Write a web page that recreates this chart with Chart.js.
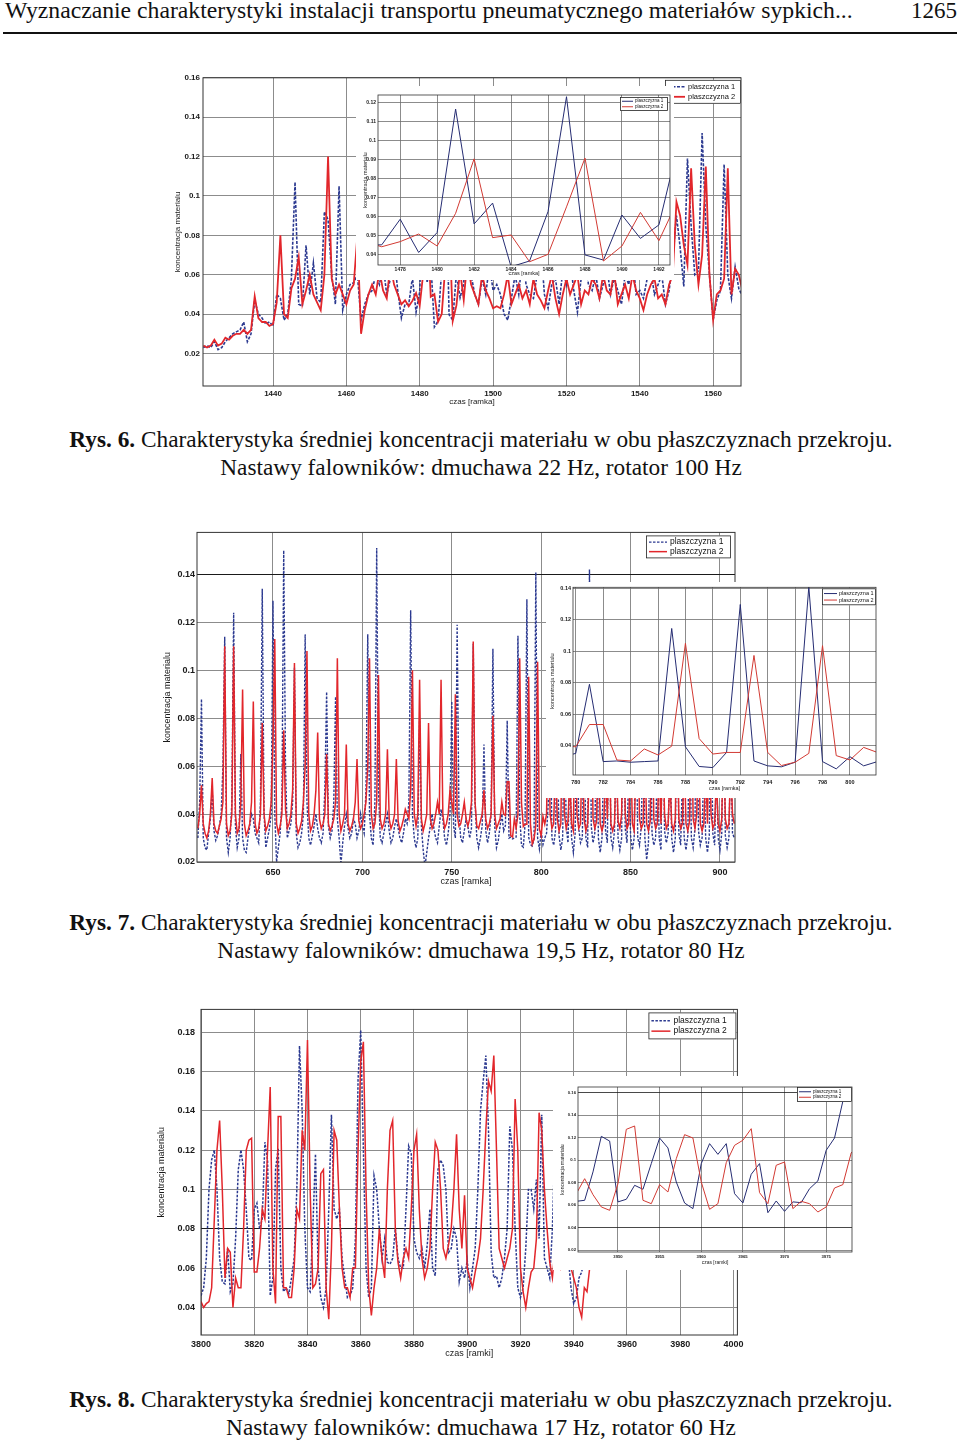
<!DOCTYPE html>
<html lang="pl">
<head>
<meta charset="utf-8">
<script src="https://cdn.jsdelivr.net/npm/chart.js@4.4.1/dist/chart.umd.min.js"></script>
<style>
  html, body { margin: 0; padding: 0; background: #fff; }
  body { width: 960px; height: 1442px; position: relative; overflow: hidden;
         font-family: "Liberation Serif", "Times New Roman", serif; color: #111; }
  #head { position: absolute; left: 5px; top: -2px; font-size: 23.7px; line-height: 25px; white-space: nowrap; }
  #page { position: absolute; right: 3px; top: -2px; font-size: 23px; line-height: 25px; }
  #rule { position: absolute; left: 3px; top: 32px; width: 954px; height: 2px; background: #111; }
  .cap { position: absolute; left: 0; width: 962px; text-align: center; font-size: 23.3px; line-height: 28px; white-space: nowrap; }
  canvas { position: absolute; }
  canvas.inset { background: #fff; }
</style>
</head>
<body>
<div id="head">Wyznaczanie charakterystyki instalacji transportu pneumatycznego materiałów sypkich...</div>
<div id="page">1265</div>
<div id="rule"></div>

<canvas id="c1" width="590" height="345" style="left:160px;top:70px"></canvas>
<canvas id="i1" class="inset" width="318" height="194" style="left:356px;top:86px"></canvas>
<div class="cap" style="top:425px"><b>Rys. 6.</b> Charakterystyka średniej koncentracji materiału w obu płaszczyznach przekroju.<br>Nastawy falowników: dmuchawa 22 Hz, rotator 100 Hz</div>

<canvas id="c2" width="595" height="368" style="left:150px;top:525px"></canvas>
<canvas id="i2" class="inset" width="334" height="216" style="left:546px;top:582px"></canvas>
<div class="cap" style="top:908px"><b>Rys. 7.</b> Charakterystyka średniej koncentracji materiału w obu płaszczyznach przekroju.<br>Nastawy falowników: dmuchawa 19,5 Hz, rotator 80 Hz</div>

<canvas id="c3" width="598" height="370" style="left:150px;top:998px"></canvas>
<canvas id="i3" class="inset" width="304" height="194" style="left:553px;top:1076px"></canvas>
<div class="cap" style="top:1385px"><b>Rys. 8.</b> Charakterystyka średniej koncentracji materiału w obu płaszczyznach przekroju.<br>Nastawy falowników: dmuchawa 17 Hz, rotator 60 Hz</div>

<script>
// ---- data (one value per frame) ----
const seriesNames = ['plaszczyzna 1', 'plaszczyzna 2'];

// Rys. 6, frames 1421..1568
const c1Start = 1421;
const c1Plane1 = [
  0.023,0.024,0.023,0.026,0.022,0.023,0.026,0.028,0.030,0.031,
  0.032,0.036,0.026,0.030,0.047,0.040,0.038,0.035,0.036,0.034,
  0.050,0.048,0.037,0.040,0.058,0.107,0.045,0.044,0.075,0.050,
  0.066,0.048,0.046,0.092,0.088,0.060,0.045,0.105,0.042,0.050,
  0.055,0.056,0.060,0.037,0.045,0.050,0.052,0.060,0.055,0.065,
  0.050,0.058,0.070,0.052,0.038,0.045,0.045,0.0585,0.041,0.0515,
  0.1165,0.056,0.067,0.0335,0.0365,0.0625,0.123,0.0397,0.037,0.0607,
  0.0484,0.0555,0.096,0.060,0.050,0.045,0.058,0.050,0.065,0.052,
  0.055,0.050,0.040,0.037,0.048,0.060,0.050,0.070,0.055,0.050,
  0.048,0.060,0.075,0.050,0.043,0.055,0.058,0.045,0.062,0.055,
  0.068,0.052,0.041,0.058,0.070,0.055,0.052,0.060,0.048,0.055,
  0.065,0.050,0.058,0.052,0.045,0.060,0.055,0.070,0.050,0.052,
  0.048,0.058,0.062,0.050,0.055,0.060,0.045,0.052,0.068,0.090,
  0.074,0.054,0.119,0.085,0.060,0.062,0.132,0.085,0.060,0.037,
  0.047,0.052,0.116,0.060,0.048,0.064,0.053,0.049
];
const c1Plane2 = [
  0.024,0.023,0.024,0.027,0.024,0.025,0.028,0.027,0.029,0.030,
  0.030,0.032,0.030,0.032,0.049,0.038,0.036,0.036,0.034,0.035,
  0.046,0.080,0.040,0.038,0.053,0.058,0.069,0.045,0.052,0.060,
  0.050,0.046,0.042,0.060,0.120,0.058,0.050,0.055,0.050,0.045,
  0.052,0.055,0.080,0.030,0.042,0.050,0.055,0.050,0.062,0.052,
  0.048,0.065,0.055,0.050,0.045,0.047,0.044,0.0467,0.0507,0.0444,
  0.0616,0.0903,0.0488,0.0502,0.0361,0.040,0.065,0.0907,0.0365,0.0444,
  0.0621,0.0472,0.068,0.055,0.050,0.045,0.060,0.052,0.048,0.043,
  0.044,0.043,0.050,0.060,0.045,0.050,0.055,0.048,0.052,0.045,
  0.058,0.050,0.047,0.043,0.052,0.060,0.048,0.040,0.050,0.058,
  0.050,0.055,0.060,0.045,0.052,0.050,0.058,0.055,0.048,0.060,
  0.052,0.050,0.062,0.045,0.050,0.055,0.048,0.060,0.052,0.048,
  0.042,0.050,0.055,0.058,0.048,0.050,0.045,0.055,0.060,0.097,
  0.090,0.075,0.065,0.114,0.075,0.055,0.070,0.115,0.060,0.037,
  0.050,0.052,0.058,0.114,0.050,0.063,0.060,0.052
];
const c1TicksX = [1440, 1460, 1480, 1500, 1520, 1540, 1560];
const c1TicksY = [0.02, 0.04, 0.06, 0.08, 0.1, 0.12, 0.14, 0.16];
const i1TicksX = [1478, 1480, 1482, 1484, 1486, 1488, 1490, 1492];
const i1TicksY = [0.04, 0.05, 0.06, 0.07, 0.08, 0.09, 0.1, 0.11, 0.12];

// Rys. 7, frames 608..908
const c2Start = 608;
const c2Plane1 = [
  0.030,0.045,0.088,0.030,0.026,0.025,0.032,0.038,0.050,0.033,
  0.029,0.031,0.035,0.040,0.060,0.114,0.030,0.024,0.030,0.045,
  0.124,0.035,0.026,0.030,0.065,0.030,0.025,0.024,0.030,0.035,
  0.040,0.038,0.032,0.030,0.028,0.045,0.134,0.040,0.026,0.030,
  0.034,0.040,0.129,0.040,0.020,0.026,0.032,0.045,0.150,0.060,
  0.030,0.033,0.036,0.045,0.101,0.032,0.026,0.028,0.032,0.040,
  0.115,0.045,0.030,0.027,0.031,0.035,0.040,0.034,0.030,0.028,
  0.032,0.050,0.091,0.035,0.030,0.033,0.045,0.089,0.038,0.030,
  0.019,0.028,0.035,0.040,0.034,0.030,0.032,0.038,0.036,0.030,
  0.033,0.040,0.035,0.032,0.050,0.115,0.040,0.030,0.027,0.045,
  0.151,0.050,0.030,0.028,0.032,0.036,0.040,0.033,0.028,0.030,
  0.035,0.038,0.034,0.030,0.028,0.032,0.038,0.036,0.045,0.125,
  0.040,0.030,0.026,0.030,0.080,0.035,0.025,0.018,0.024,0.030,
  0.035,0.040,0.034,0.030,0.028,0.035,0.042,0.038,0.030,0.027,
  0.032,0.040,0.087,0.035,0.030,0.119,0.040,0.030,0.028,0.033,
  0.038,0.035,0.030,0.034,0.111,0.045,0.030,0.026,0.030,0.035,
  0.069,0.033,0.028,0.032,0.040,0.109,0.035,0.026,0.029,0.035,
  0.040,0.033,0.0352,0.079,0.030,0.0304,0.0296,0.030,0.0304,0.1144,
  0.0394,0.0269,0.0262,0.0358,0.1296,0.0304,0.0273,0.0267,0.0296,0.1408,
  0.030,0.0254,0.0331,0.0273,0.030,0.032,0.045,0.090,0.030,0.027,
  0.033,0.070,0.031,0.025,0.030,0.085,0.035,0.028,0.060,0.030,
  0.024,0.032,0.100,0.034,0.028,0.030,0.075,0.030,0.026,0.142,
  0.035,0.028,0.032,0.080,0.030,0.024,0.030,0.065,0.033,0.028,
  0.095,0.030,0.026,0.033,0.070,0.030,0.025,0.030,0.110,0.034,
  0.028,0.060,0.031,0.025,0.030,0.090,0.030,0.027,0.035,0.075,
  0.030,0.021,0.028,0.085,0.032,0.027,0.030,0.065,0.030,0.025,
  0.100,0.033,0.028,0.032,0.070,0.030,0.024,0.030,0.090,0.032,
  0.027,0.055,0.030,0.025,0.031,0.080,0.030,0.026,0.034,0.105,
  0.033,0.027,0.030,0.065,0.030,0.024,0.031,0.085,0.032,0.027,
  0.060,0.030,0.025,0.032,0.095,0.031,0.026,0.030,0.070,0.032,
  0.030
];
const c2Plane2 = [
  0.034,0.040,0.052,0.036,0.032,0.030,0.033,0.040,0.055,0.036,
  0.033,0.032,0.035,0.038,0.045,0.110,0.036,0.031,0.033,0.040,
  0.110,0.040,0.032,0.034,0.045,0.092,0.036,0.031,0.033,0.036,
  0.045,0.087,0.036,0.032,0.034,0.040,0.078,0.040,0.033,0.035,
  0.038,0.045,0.070,0.113,0.036,0.032,0.035,0.040,0.075,0.042,
  0.034,0.036,0.040,0.050,0.103,0.036,0.032,0.034,0.037,0.045,
  0.060,0.108,0.040,0.033,0.035,0.040,0.050,0.074,0.038,0.034,
  0.036,0.040,0.065,0.036,0.033,0.035,0.038,0.045,0.105,0.040,
  0.033,0.036,0.040,0.069,0.036,0.033,0.035,0.038,0.045,0.063,
  0.037,0.034,0.036,0.040,0.045,0.060,0.105,0.040,0.034,0.036,
  0.045,0.098,0.038,0.034,0.036,0.040,0.067,0.038,0.034,0.036,
  0.040,0.063,0.037,0.033,0.035,0.038,0.042,0.040,0.038,0.050,
  0.100,0.040,0.035,0.040,0.096,0.038,0.033,0.036,0.040,0.078,
  0.038,0.034,0.036,0.040,0.045,0.040,0.096,0.040,0.034,0.036,
  0.040,0.050,0.045,0.040,0.090,0.040,0.035,0.036,0.040,0.045,
  0.038,0.035,0.038,0.045,0.112,0.045,0.035,0.034,0.037,0.040,
  0.050,0.038,0.034,0.036,0.040,0.081,0.040,0.034,0.036,0.038,
  0.045,0.040,0.0394,0.0535,0.0535,0.031,0.0304,0.038,0.0342,0.0398,
  0.105,0.0446,0.0348,0.0358,0.0358,0.0973,0.0358,0.0275,0.0296,0.0352,
  0.1035,0.0338,0.031,0.039,0.0358,0.040,0.080,0.040,0.034,0.036,
  0.065,0.038,0.033,0.036,0.090,0.040,0.034,0.037,0.055,0.036,
  0.033,0.085,0.040,0.034,0.036,0.070,0.038,0.033,0.036,0.060,
  0.095,0.038,0.034,0.037,0.075,0.036,0.033,0.036,0.060,0.038,
  0.080,0.036,0.033,0.036,0.065,0.037,0.034,0.040,0.100,0.040,
  0.034,0.036,0.070,0.036,0.033,0.060,0.085,0.038,0.034,0.036,
  0.065,0.036,0.033,0.037,0.090,0.038,0.034,0.036,0.060,0.036,
  0.075,0.040,0.034,0.036,0.055,0.036,0.033,0.038,0.085,0.038,
  0.034,0.036,0.065,0.036,0.033,0.037,0.090,0.038,0.034,0.040,
  0.070,0.036,0.033,0.036,0.060,0.036,0.080,0.040,0.034,0.036,
  0.055,0.036,0.033,0.038,0.075,0.038,0.034,0.036,0.060,0.040,
  0.036
];
const c2TicksX = [650, 700, 750, 800, 850, 900];
const c2TicksY = [0.02, 0.04, 0.06, 0.08, 0.1, 0.12, 0.14];
const i2TicksX = [780, 782, 784, 786, 788, 790, 792, 794, 796, 798, 800];
const i2TicksY = [0.04, 0.06, 0.08, 0.1, 0.12, 0.14];

// Rys. 8, frames 3800..3947 (rest of the main plot is covered by the inset)
const c3Start = 3800;
const c3Plane1 = [
  0.046,0.050,0.065,0.100,0.115,0.120,0.100,0.065,0.053,0.052,
  0.070,0.048,0.052,0.075,0.110,0.120,0.110,0.090,0.065,0.064,
  0.090,0.093,0.080,0.085,0.124,0.115,0.046,0.055,0.110,0.121,
  0.060,0.048,0.050,0.047,0.055,0.065,0.100,0.173,0.140,0.080,
  0.050,0.048,0.080,0.118,0.060,0.045,0.040,0.050,0.090,0.138,
  0.090,0.085,0.090,0.065,0.055,0.045,0.046,0.050,0.075,0.156,
  0.181,0.120,0.060,0.045,0.050,0.107,0.100,0.080,0.065,0.075,
  0.063,0.062,0.065,0.080,0.065,0.060,0.060,0.090,0.122,0.118,
  0.075,0.068,0.065,0.070,0.060,0.072,0.090,0.060,0.056,0.110,
  0.115,0.112,0.100,0.068,0.070,0.080,0.075,0.053,0.060,0.055,
  0.064,0.050,0.060,0.070,0.100,0.140,0.155,0.168,0.130,0.068,
  0.055,0.056,0.050,0.055,0.065,0.080,0.132,0.120,0.080,0.050,
  0.045,0.050,0.070,0.100,0.100,0.090,0.105,0.075,0.138,0.065,
  0.060,0.055,0.080,0.125,0.090,0.070,0.080,0.075,0.065,0.050,
  0.042,0.045,0.055,0.058,0.065,0.064,0.064,0.090
];
const c3Plane2 = [
  0.043,0.040,0.042,0.043,0.050,0.085,0.120,0.135,0.100,0.055,
  0.070,0.068,0.040,0.055,0.050,0.050,0.080,0.120,0.125,0.126,
  0.058,0.058,0.070,0.090,0.085,0.120,0.152,0.060,0.042,0.137,
  0.137,0.050,0.050,0.045,0.045,0.060,0.090,0.085,0.130,0.120,
  0.176,0.100,0.050,0.052,0.060,0.108,0.110,0.050,0.034,0.070,
  0.130,0.125,0.090,0.060,0.050,0.050,0.045,0.060,0.060,0.120,
  0.165,0.175,0.100,0.050,0.036,0.050,0.060,0.080,0.065,0.055,
  0.100,0.130,0.135,0.080,0.063,0.055,0.065,0.070,0.065,0.090,
  0.120,0.128,0.090,0.065,0.055,0.060,0.070,0.100,0.124,0.120,
  0.100,0.070,0.065,0.072,0.080,0.100,0.128,0.090,0.070,0.097,
  0.060,0.055,0.050,0.058,0.065,0.075,0.100,0.130,0.155,0.150,
  0.168,0.120,0.070,0.065,0.060,0.065,0.070,0.080,0.146,0.120,
  0.060,0.048,0.040,0.050,0.058,0.060,0.075,0.139,0.130,0.100,
  0.080,0.063,0.055,0.070,0.065,0.060,0.065,0.070,0.060,0.060,
  0.055,0.050,0.040,0.035,0.050,0.048,0.060,0.070
];
const c3TicksX = [3800, 3820, 3840, 3860, 3880, 3900, 3920, 3940, 3960, 3980, 4000];
const c3TicksY = [0.04, 0.06, 0.08, 0.1, 0.12, 0.14, 0.16, 0.18];

// Rys. 8 inset, frames 3945..3979
const i3Start = 3945;
const i3Plane1 = [
  0.0635,0.0644,0.0896,0.1212,0.117,0.063,0.0653,0.0777,0.0742,0.097,
  0.1197,0.1109,0.0807,0.062,0.057,0.097,0.1147,0.1052,0.1147,0.0703,
  0.062,0.0875,0.097,0.0534,0.0638,0.0546,0.063,0.0623,0.0747,0.0816,
  0.1088,0.1197,0.1523,0.1665,0.172
];
const i3Plane2 = [
  0.0703,0.0836,0.0694,0.0585,0.0555,0.0792,0.1274,0.1304,0.0644,0.0614,
  0.0783,0.0718,0.1014,0.1227,0.1197,0.0807,0.0564,0.0614,0.0978,0.1132,
  0.1177,0.128,0.0712,0.0614,0.0955,0.0984,0.057,0.0635,0.0614,0.054,
  0.0585,0.0753,0.0783,0.1064,0.115
];
const i3TicksX = [3950, 3955, 3960, 3965, 3970, 3975];
const i3TicksY = [0.02, 0.04, 0.06, 0.08, 0.1, 0.12, 0.14, 0.16];

// ---- drawing ----
const FONT = '"Liberation Sans", Arial, Helvetica, sans-serif';
Chart.defaults.font.family = FONT;

const BLUE = '#2b3990', RED = '#e2262b';
const BLUE_IN = '#252c72', RED_IN = '#d23a33';

// box around the plot area, like the MATLAB axes
const framePlugin = {
  id: 'frame',
  afterDatasetsDraw(chart, args, o) {
    const { ctx, chartArea: a } = chart;
    ctx.save();
    ctx.strokeStyle = o.color || '#333';
    ctx.lineWidth = o.width || 1;
    ctx.strokeRect(a.left, a.top, a.right - a.left, a.bottom - a.top);
    ctx.restore();
  }
};

// boxed legend in the top right corner of the plot area
const boxLegend = {
  id: 'boxLegend',
  afterDraw(chart, args, o) {
    const { ctx, chartArea: a } = chart;
    const sets = chart.data.datasets;
    const x = a.right - o.dx - o.w, y = a.top + o.dy;
    const row = (o.h - 2 * o.py) / sets.length;
    ctx.save();
    ctx.fillStyle = '#fff';
    ctx.fillRect(x, y, o.w, o.h);
    ctx.strokeStyle = '#222';
    ctx.lineWidth = 0.8;
    ctx.strokeRect(x + 0.5, y + 0.5, o.w - 1, o.h - 1);
    ctx.font = o.size + 'px ' + FONT;
    ctx.textBaseline = 'middle';
    sets.forEach((ds, i) => {
      const cy = y + o.py + row * (i + 0.5);
      ctx.beginPath();
      ctx.setLineDash(ds.borderDash || []);
      ctx.strokeStyle = ds.borderColor;
      ctx.lineWidth = ds.borderWidth;
      ctx.moveTo(x + o.lx, cy);
      ctx.lineTo(x + o.lx + o.line, cy);
      ctx.stroke();
      ctx.setLineDash([]);
      ctx.fillStyle = '#111';
      ctx.fillText(ds.label, x + o.lx + o.line + o.gap, cy);
    });
    ctx.restore();
  }
};

function series(label, start, values, color, width, dash, order) {
  return {
    label,
    data: values.map((v, i) => ({ x: start + i, y: v })),
    borderColor: color,
    borderWidth: width,
    borderDash: dash,
    pointRadius: 0,
    tension: 0,
    fill: false,
    order
  };
}

function plot(id, o) {
  const font = (size, weight) => ({ family: FONT, size, weight, lineHeight: 1.2 });
  const gridColor = (dark) => (c) =>
    (dark && c.tick && dark.includes(c.tick.value)) ? '#1a1a1a' : o.grid;
  return new Chart(document.getElementById(id), {
    type: 'line',
    data: { datasets: o.datasets },
    options: {
      responsive: false,
      animation: false,
      events: [],
      layout: { padding: o.pad },
      plugins: {
        legend: { display: false },
        tooltip: { enabled: false },
        frame: { color: o.frame, width: o.frameWidth },
        boxLegend: o.legend
      },
      scales: {
        x: {
          type: 'linear',
          min: o.xMin, max: o.xMax,
          afterBuildTicks: (s) => { s.ticks = o.xTicks.map((v) => ({ value: v })); },
          afterFit: (s) => { s.height = o.xH; },
          grid: { color: gridColor(o.darkX), lineWidth: o.gridWidth, drawTicks: false },
          border: { display: false },
          ticks: { font: font(o.tick, 'bold'), color: '#1a1a1a', padding: o.xTickPad,
                   maxRotation: 0, autoSkip: false, callback: (v) => String(v) },
          title: { display: true, text: o.xTitle, font: font(o.title), color: '#1a1a1a',
                   padding: { top: 0, bottom: o.xTitlePad } }
        },
        y: {
          type: 'linear',
          min: o.yMin, max: o.yMax,
          afterBuildTicks: (s) => { s.ticks = o.yTicks.map((v) => ({ value: v })); },
          afterFit: (s) => { s.width = o.yW; },
          grid: { color: gridColor(o.darkY), lineWidth: o.gridWidth, drawTicks: false },
          border: { display: false },
          ticks: { font: font(o.tick, 'bold'), color: '#1a1a1a', padding: o.yTickPad,
                   autoSkip: false, callback: (v) => String(v) },
          title: { display: true, text: 'koncentracja materialu', font: font(o.title), color: '#1a1a1a',
                   padding: { top: o.yTitlePad, bottom: 0 } }
        }
      }
    },
    plugins: [framePlugin, boxLegend]
  });
}

// Rys. 6
plot('c1', {
  datasets: [
    series(seriesNames[0], c1Start, c1Plane1, BLUE, 1.6, [3, 1.5], 1),
    series(seriesNames[1], c1Start, c1Plane2, RED, 1.8, [], 0)
  ],
  xMin: 1420.9, xMax: 1567.6, yMin: 0.0035, yMax: 0.16,
  xTicks: c1TicksX, yTicks: c1TicksY, xTitle: 'czas [ramka]',
  pad: { left: 0, right: 9, top: 7, bottom: 4 }, yW: 43, xH: 25,
  tick: 8, title: 8, xTickPad: 3, yTickPad: 3, xTitlePad: 4, yTitlePad: 13,
  grid: '#8c8c8c', gridWidth: 1, frame: '#333', frameWidth: 1,
  legend: { w: 76, h: 24, dx: 0, dy: 2, py: 2, size: 7.5, lx: 3, line: 17, gap: 3 }
});
plot('i1', {
  datasets: [
    series(seriesNames[0], c1Start, c1Plane1, BLUE_IN, 1, [], 1),
    series(seriesNames[1], c1Start, c1Plane2, RED_IN, 1, [], 0)
  ],
  xMin: 1476.8, xMax: 1492.6, yMin: 0.0344, yMax: 0.1239,
  xTicks: i1TicksX, yTicks: i1TicksY, xTitle: 'czas [ramka]',
  pad: { left: 0, right: 4, top: 9, bottom: 3 }, yW: 22, xH: 12,
  tick: 5, title: 5.5, xTickPad: 1.5, yTickPad: 2, xTitlePad: 0, yTitlePad: 6,
  grid: '#6f6f6f', gridWidth: 0.8, frame: '#333', frameWidth: 0.8,
  legend: { w: 48, h: 14, dx: 2, dy: 2, py: 1.5, size: 4.5, lx: 2, line: 11, gap: 2 }
});

// Rys. 7
plot('c2', {
  datasets: [
    series(seriesNames[0], c2Start, c2Plane1, BLUE, 1.4, [2.5, 1.5], 1),
    series(seriesNames[1], c2Start, c2Plane2, RED, 1.5, [], 0)
  ],
  xMin: 607.5, xMax: 908.4, yMin: 0.02, yMax: 0.1575,
  xTicks: c2TicksX, yTicks: c2TicksY, xTitle: 'czas [ramka]',
  pad: { left: 0, right: 10, top: 7, bottom: 3 }, yW: 47, xH: 28,
  tick: 9, title: 9, xTickPad: 5, yTickPad: 2, xTitlePad: 2.6, yTitlePad: 12.6,
  grid: '#8c8c8c', gridWidth: 1, frame: '#333', frameWidth: 1, darkY: [0.14],
  legend: { w: 85, h: 23, dx: 4, dy: 3, py: 2, size: 8.5, lx: 3, line: 18, gap: 3 }
});
plot('i2', {
  datasets: [
    series(seriesNames[0], c2Start, c2Plane1, BLUE_IN, 1, [], 1),
    series(seriesNames[1], c2Start, c2Plane2, RED_IN, 1, [], 0)
  ],
  xMin: 779.8, xMax: 801.9, yMin: 0.0215, yMax: 0.1405,
  xTicks: i2TicksX, yTicks: i2TicksY, xTitle: 'czas [ramka]',
  pad: { left: 0, right: 4, top: 5, bottom: 6 }, yW: 27, xH: 17,
  tick: 5.5, title: 5.5, xTickPad: 4, yTickPad: 2, xTitlePad: 0, yTitlePad: 2.7,
  grid: '#6f6f6f', gridWidth: 0.8, frame: '#333', frameWidth: 0.8,
  legend: { w: 54, h: 17, dx: 0, dy: 1, py: 2, size: 5.5, lx: 2, line: 13, gap: 2 }
});

// Rys. 8
plot('c3', {
  datasets: [
    series(seriesNames[0], c3Start, c3Plane1, BLUE, 1.5, [2.5, 1.5], 1),
    series(seriesNames[1], c3Start, c3Plane2, RED, 1.5, [], 0)
  ],
  xMin: 3800, xMax: 4001.5, yMin: 0.026, yMax: 0.1915,
  xTicks: c3TicksX, yTicks: c3TicksY, xTitle: 'czas [ramki]',
  pad: { left: 0, right: 10, top: 7, bottom: 3 }, yW: 51, xH: 30,
  tick: 9, title: 9, xTickPad: 4.5, yTickPad: 6, xTitlePad: 5.6, yTitlePad: 6.6,
  grid: '#8c8c8c', gridWidth: 1, frame: '#333', frameWidth: 1, darkY: [0.08],
  legend: { w: 88, h: 27, dx: 1, dy: 3, py: 3, size: 8.5, lx: 3, line: 19, gap: 3 }
});
plot('i3', {
  datasets: [
    series(seriesNames[0], i3Start, i3Plane1, BLUE_IN, 1, [], 1),
    series(seriesNames[1], i3Start, i3Plane2, RED_IN, 1, [], 0)
  ],
  xMin: 3945.2, xMax: 3978.1, yMin: 0.0185, yMax: 0.165,
  xTicks: i3TicksX, yTicks: i3TicksY, xTitle: 'czas [ramki]',
  pad: { left: 0, right: 5, top: 11, bottom: 4 }, yW: 25, xH: 14,
  tick: 4.2, title: 5, xTickPad: 2.8, yTickPad: 2, xTitlePad: 0.3, yTitlePad: 6.3,
  grid: '#6f6f6f', gridWidth: 0.8, frame: '#333', frameWidth: 0.8, darkY: [0.16, 0.04],
  legend: { w: 55, h: 15, dx: 0, dy: 0, py: 2, size: 4.5, lx: 2, line: 12, gap: 2 }
});
</script>
</body>
</html>
